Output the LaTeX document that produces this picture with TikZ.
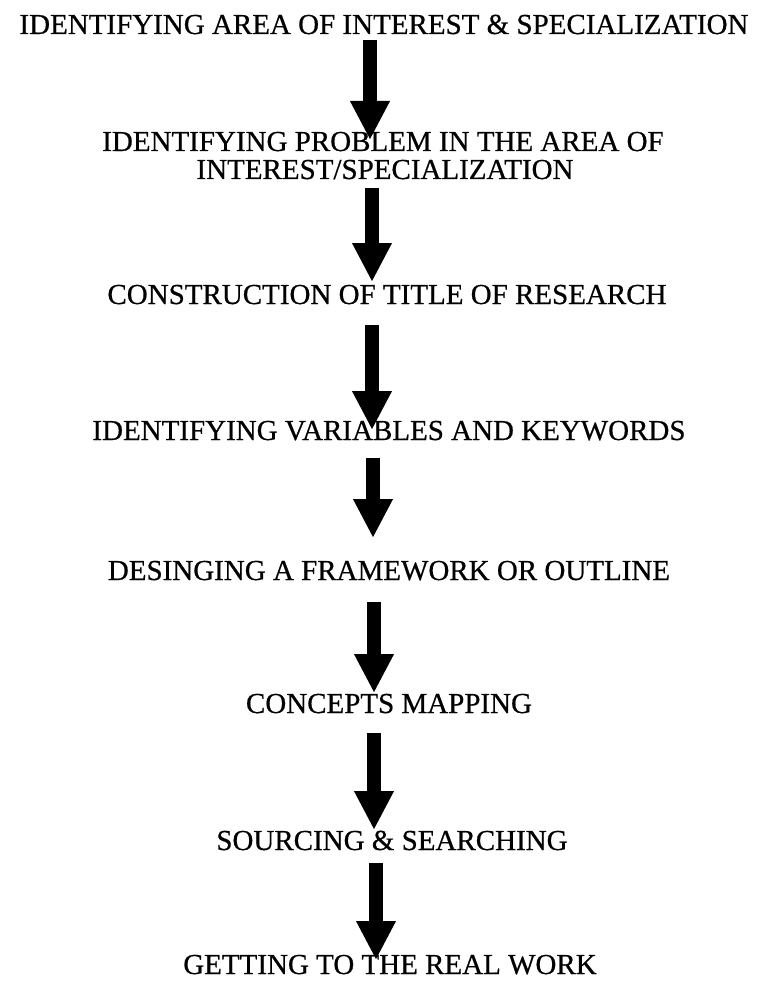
\documentclass[tikz,border=0pt]{standalone}
\usepackage{fontspec}
\setmainfont[FakeBold=0.6]{Liberation Serif}
\usetikzlibrary{arrows.meta}
\begin{document}
\begin{tikzpicture}[x=1pt,y=-1pt,
  lbl/.style={font=\fontsize{29}{28}\selectfont, inner sep=0pt, anchor=base},
  bigarrow/.style={line width=14pt, -{Triangle[width=37pt,length=39pt]}}]
\useasboundingbox[fill=white] (0,0) rectangle (759,1000);
% labels
\node[lbl] (n1)  at (384,34)  {IDENTIFYING AREA OF INTEREST \& SPECIALIZATION};
\node[lbl] (n2a) at (383,151) {IDENTIFYING PROBLEM IN THE AREA OF};
\node[lbl] (n2b) at (385,179) {INTEREST/SPECIALIZATION};
\node[lbl] (n3)  at (387,304) {CONSTRUCTION OF TITLE OF RESEARCH};
\node[lbl] (n4)  at (389,440) {IDENTIFYING VARIABLES AND KEYWORDS};
\node[lbl] (n5)  at (389,580) {DESINGING A FRAMEWORK OR OUTLINE};
\node[lbl] (n6)  at (389,713) {CONCEPTS MAPPING};
\node[lbl] (n7)  at (392,850) {SOURCING \& SEARCHING};
\node[lbl] (n8)  at (390,974) {GETTING TO THE REAL WORK};
% arrow end points
\coordinate (s1) at (370,40);  \coordinate (t1) at (370,140);
\coordinate (s2) at (372,188); \coordinate (t2) at (372,282);
\coordinate (s3) at (372,325); \coordinate (t3) at (372,430);
\coordinate (s4) at (373,458); \coordinate (t4) at (373,538);
\coordinate (s5) at (374,602); \coordinate (t5) at (374,693);
\coordinate (s6) at (374,733); \coordinate (t6) at (374,830);
\coordinate (s7) at (376,863); \coordinate (t7) at (376,960);
\foreach \i in {1,...,7} {\draw[bigarrow] (s\i) -- (t\i);}
\end{tikzpicture}
\end{document}
